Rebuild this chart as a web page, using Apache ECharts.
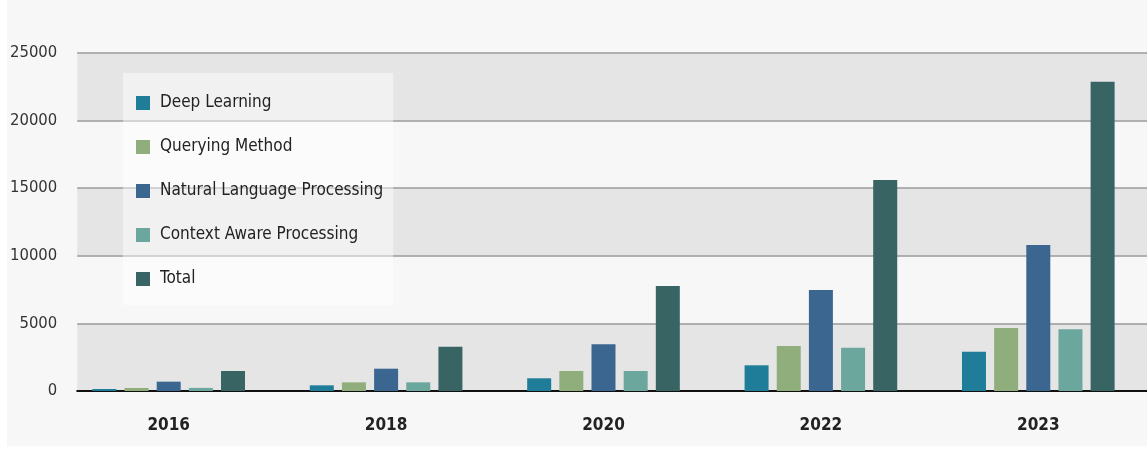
<!DOCTYPE html>
<html>
<head>
<meta charset="utf-8">
<script src="https://cdn.jsdelivr.net/npm/echarts@6/dist/echarts.min.js"></script>
<style>
  html, body { margin: 0; padding: 0; background: #ffffff; }
  #chart { position: absolute; left: 7px; top: 0; width: 1140px; height: 446px; }
</style>
</head>
<body>
<div id="chart"></div>
<script>
// years on the x axis
const years = ['2016', '2018', '2020', '2022', '2023'];
// values
const deepLearning = [150, 420, 940, 1900, 2900];
const queryingMethod = [220, 640, 1480, 3330, 4660];
const nlp = [690, 1650, 3450, 7470, 10800];
const contextAware = [230, 640, 1480, 3200, 4560];
const total = [1480, 3280, 7770, 15600, 22880];
const yTicks = [0, 5000, 10000, 15000, 20000, 25000];

const names = ['Deep Learning', 'Querying Method', 'Natural Language Processing', 'Context Aware Processing', 'Total'];
const colors = ['#1f7d99', '#8fae7b', '#3a6690', '#6ba79c', '#386463'];
const values = [deepLearning, queryingMethod, nlp, contextAware, total];

const narrowFont = "'DejaVu Sans Condensed', 'Liberation Sans Narrow', Roboto, sans-serif";

let chart = echarts.init(document.getElementById('chart'));

let option = {
  backgroundColor: '#f7f7f7',
  animation: false,
  legend: {
    orient: 'vertical',
    left: 116,
    top: 73,
    padding: [20, 10, 16, 13],
    itemGap: 24,
    itemWidth: 14,
    itemHeight: 14,
    icon: 'rect',
    backgroundColor: 'rgba(255,255,255,0.45)',
    textStyle: {
      fontFamily: narrowFont,
      fontSize: 17,
      lineHeight: 20,
      color: '#222',
      padding: [0, 0, 0, 5]
    },
    data: names
  },
  grid: [
    // background grid: split areas, gridlines, axis line
    { left: 65, right: 0, top: 53, bottom: 55 },
    // bar grid, a bit wider so groups sit where the picture has them
    { left: 53, width: 1100, top: 53, bottom: 55 }
  ],
  xAxis: [
    {
      type: 'category',
      gridIndex: 0,
      data: years,
      axisLine: { lineStyle: { color: '#111', width: 2 } },
      axisTick: { show: false },
      axisLabel: { show: false }
    },
    {
      type: 'category',
      gridIndex: 1,
      data: years,
      axisLine: { show: false },
      axisTick: { show: false },
      axisLabel: {
        margin: 26,
        fontFamily: narrowFont,
        fontWeight: 'bold',
        fontSize: 17,
        color: '#222'
      }
    }
  ],
  yAxis: [
    {
      type: 'value',
      gridIndex: 0,
      min: yTicks[0],
      max: yTicks[yTicks.length - 1],
      interval: 5000,
      axisLine: { show: false },
      axisTick: { show: false },
      axisLabel: {
        margin: 20,
        fontFamily: narrowFont,
        fontSize: 16.5,
        color: '#333',
        formatter: v => String(v)
      },
      splitLine: { lineStyle: { color: '#9a9a9a', width: 1.5 } },
      splitArea: { show: true, areaStyle: { color: ['#e5e5e5', '#f7f7f7'] } }
    },
    {
      type: 'value',
      gridIndex: 1,
      min: yTicks[0],
      max: yTicks[yTicks.length - 1],
      interval: 5000,
      show: false
    }
  ],
  series: names.map((name, i) => ({
    name: name,
    type: 'bar',
    xAxisIndex: 1,
    yAxisIndex: 1,
    barWidth: 24,
    barGap: '34%',
    itemStyle: { color: colors[i] },
    data: values[i]
  }))
};

chart.setOption(option);
</script>
</body>
</html>
